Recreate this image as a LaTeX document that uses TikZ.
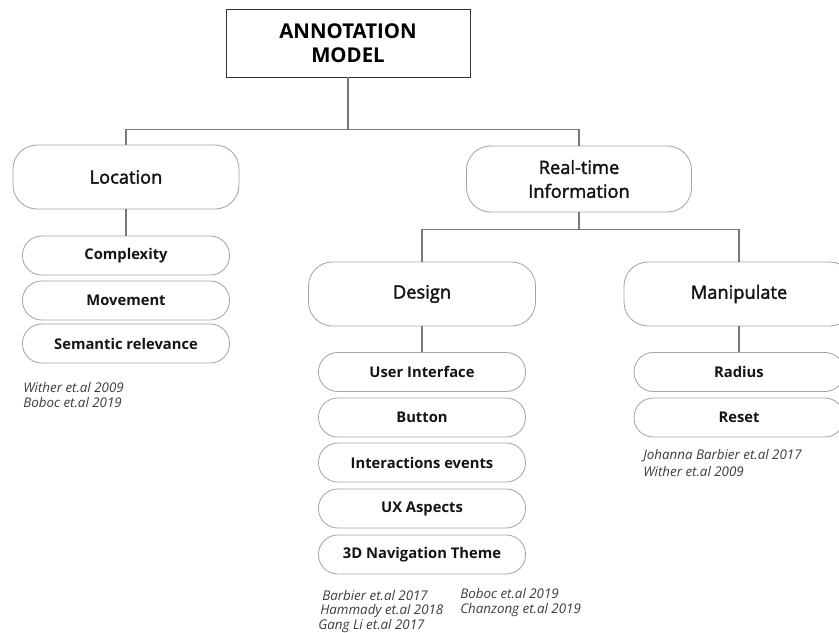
\documentclass[tikz,border=0pt]{standalone}
\usepackage{fontspec}
\setmainfont{Open Sans}
\newfontfamily\semifont{Open Sans}[UprightFeatures={FakeBold=2}]
\usetikzlibrary{positioning}

\definecolor{linkgray}{RGB}{120,120,120}
\definecolor{boxgray}{RGB}{165,165,165}
\definecolor{textdark}{RGB}{20,20,20}
\definecolor{citegray}{RGB}{60,60,60}

\begin{document}
\begin{tikzpicture}[x=0.025cm, y=-0.025cm,
  topbox/.style={draw=black!80, line width=0.7pt, minimum width=244*0.025cm, minimum height=68*0.025cm,
    align=center, font=\fontsize{14.5}{17}\selectfont\bfseries, text=black},
  bigbox/.style={draw=boxgray, line width=0.6pt, rounded corners=0.6cm, minimum width=227*0.025cm,
    minimum height=64*0.025cm, align=center, font=\fontsize{13}{17}\semifont, text=textdark},
  leaf/.style={draw=boxgray, line width=0.6pt, rounded corners=0.48cm, minimum width=207*0.025cm,
    minimum height=39*0.025cm, font=\fontsize{10.5}{12}\selectfont\bfseries, text=textdark},
  cite/.style={anchor=west, inner sep=0pt, font=\fontsize{9.5}{11}\selectfont\itshape, text=citegray},
  link/.style={draw=linkgray, line width=1.3pt}]
\useasboundingbox (0,0) rectangle (839,632);

\node[topbox] (model) at (348,43) {ANNOTATION\\MODEL};
\node[bigbox, minimum width=226*0.025cm] (loc) at (126,177) {Location};
\node[bigbox, minimum width=225*0.025cm, minimum height=66*0.025cm] (rt) at (579,179) {Real-time\\Information};
\node[bigbox] (design) at (422,294) {Design};
\node[bigbox, minimum width=230*0.025cm] (manip) at (739,294) {Manipulate};

\node[leaf] (cplx) at (126,255.5) {Complexity};
\node[leaf] (move) at (126,300.5) {Movement};
\node[leaf] (sem) at (126,343.5) {Semantic relevance};

\node[leaf] (ui) at (422,372) {User Interface};
\node[leaf] (btn) at (422,417.5) {Button};
\node[leaf] (inter) at (422,462.5) {Interactions events};
\node[leaf] (ux) at (422,508.5) {UX Aspects};
\node[leaf] (nav) at (422,554.5) {3D Navigation Theme};

\node[leaf, minimum width=210*0.025cm] (radius) at (739,372) {Radius};
\node[leaf, minimum width=210*0.025cm] (reset) at (739,417.5) {Reset};

\draw[link] (model.south) -- ++(0,52) -| (loc.north);
\draw[link] (model.south) -- ++(0,52) -| (rt.north);
\draw[link] (rt.south) -- ++(0,17) -| (design.north);
\draw[link] (rt.south) -- ++(0,17) -| (manip.north);
\draw[link] (loc.south) -- (cplx.north);
\draw[link] (design.south) -- (ui.north);
\draw[link] (manip.south) -- (radius.north);

\node[cite] (locA) at (23,388) {Wither et.al 2009};
\node[cite] (locB) at (23,403) {Boboc et.al 2019};
\node[cite] (desA) at (322,596) {Barbier et.al 2017};
\node[cite] (desB) at (320,611) {Hammady et.al 2018};
\node[cite] (desC) at (318,626) {Gang Li et.al 2017};
\node[cite] (desD) at (460,594) {Boboc et.al 2019};
\node[cite] (desE) at (460,610) {Chanzong et.al 2019};
\node[cite] (manA) at (643,456) {Johanna Barbier et.al 2017};
\node[cite] (manB) at (643,472) {Wither et.al 2009};
\end{tikzpicture}
\end{document}
